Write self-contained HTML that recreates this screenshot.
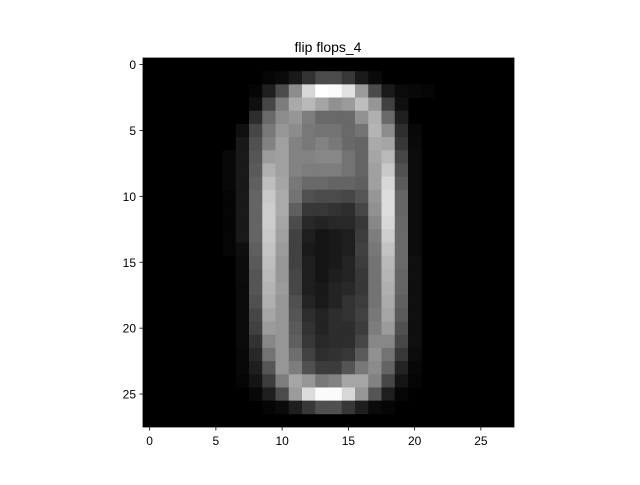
<!DOCTYPE html>
<html><head><meta charset="utf-8"><style>
body{margin:0;background:#fff;}
svg text{font-family:"Liberation Sans","DejaVu Sans",sans-serif;}
</style></head><body>
<svg id="chart" width="640" height="480" viewBox="0 0 640 480">
<rect width="640" height="480" fill="#fff"/>
<text x="328" y="52" font-size="14" text-anchor="middle">flip flops_4</text>
<g id="cells"></g>
<g id="axes"></g>
</svg>
<script>
// columns 6..21 values per row (others are 0)
const colStart = 6;
const rows = [
[0,0,0,0,0,0,0,0,0,0,0,0,0,0,0,0],
[0,0,0,5,10,25,50,75,75,55,25,10,0,0,0,0],
[0,0,5,30,75,140,215,255,250,225,155,75,25,10,8,5],
[0,0,15,70,125,170,185,165,145,155,190,150,65,15,0,0],
[0,0,45,105,140,150,125,105,105,105,145,175,105,30,0,0],
[0,15,70,120,150,140,120,115,115,105,115,180,140,45,8,0],
[0,25,80,130,160,130,120,130,120,105,100,170,165,55,10,0],
[8,25,85,155,160,130,130,135,135,115,100,165,185,70,12,0],
[8,25,90,175,160,130,125,125,125,115,100,160,200,80,12,0],
[8,25,95,190,165,120,105,105,100,100,95,160,215,90,12,0],
[5,25,100,200,170,115,80,75,75,70,85,150,220,100,12,0],
[5,25,100,205,170,95,55,55,50,45,70,145,220,100,12,0],
[5,25,100,205,165,75,40,35,40,40,55,135,215,105,12,0],
[5,25,100,200,160,65,30,20,25,30,60,125,205,105,12,0],
[5,15,95,195,155,65,25,20,25,30,65,120,195,105,12,0],
[0,12,90,190,150,65,30,20,25,35,60,115,185,105,15,0],
[0,12,85,185,150,70,30,20,30,35,55,115,180,100,15,0],
[0,10,85,180,155,70,30,25,35,40,55,115,175,100,15,0],
[0,10,80,175,150,80,35,25,35,50,60,115,170,95,15,0],
[0,10,70,165,150,85,45,35,45,50,65,120,165,90,15,0],
[0,10,65,155,150,90,50,35,45,45,60,125,155,80,15,0],
[0,10,50,135,150,95,55,40,45,45,70,135,135,70,15,0],
[0,8,40,115,150,110,65,45,50,55,90,145,115,55,12,0],
[0,8,30,85,150,125,80,60,60,85,120,140,100,35,8,0],
[0,5,20,60,125,165,150,120,130,165,165,130,70,20,5,0],
[0,0,8,30,75,155,220,250,250,215,150,85,30,5,0,0],
[0,0,0,5,10,30,55,80,80,55,30,10,5,0,0,0],
[0,0,0,0,0,0,0,0,0,0,0,0,0,0,0,0]
];
const ticks = [0,5,10,15,20,25];
const NS="http://www.w3.org/2000/svg";
const x0=143,y0=58,w=371,h=369,n=28;
const cw=w/n, ch=h/n;
const xs=c=>x0+c*cw, ys=r=>y0+r*ch;
const g=document.getElementById('cells');
const bg=document.createElementNS(NS,'rect');
bg.setAttribute('x',x0);bg.setAttribute('y',y0);bg.setAttribute('width',w);bg.setAttribute('height',h);bg.setAttribute('fill','#000');


g.appendChild(bg);
rows.forEach((row,r)=>row.forEach((v,i)=>{
  if(!v) return;
  const c=i+colStart;
  const e=document.createElementNS(NS,'rect');
  e.setAttribute('x',xs(c));e.setAttribute('y',ys(r));
  e.setAttribute('width',cw+0.4);e.setAttribute('height',ch+0.4);
  e.setAttribute('fill',`rgb(${v},${v},${v})`);
  
  
  g.appendChild(e);
}));
const a=document.getElementById('axes');
const fr=document.createElementNS(NS,'rect');
fr.setAttribute('x',x0);fr.setAttribute('y',y0);fr.setAttribute('width',w);fr.setAttribute('height',h);
fr.setAttribute('fill','none');fr.setAttribute('stroke','#000');fr.setAttribute('stroke-width','0.8');


a.appendChild(fr);
ticks.forEach(t=>{
  const cx=xs(t+0.5), cy=ys(t+0.5);
  const l1=document.createElementNS(NS,'line');
  l1.setAttribute('x1',cx);l1.setAttribute('x2',cx);l1.setAttribute('y1',y0+h);l1.setAttribute('y2',y0+h+3.5);
  l1.setAttribute('stroke','#000');l1.setAttribute('stroke-width','0.8');
  
  
  a.appendChild(l1);
  const t1=document.createElementNS(NS,'text');
  t1.setAttribute('x',cx);t1.setAttribute('y',y0+h+18);t1.setAttribute('font-size','12');t1.setAttribute('text-anchor','middle');
  t1.textContent=t;
  
  
  a.appendChild(t1);
  const l2=document.createElementNS(NS,'line');
  l2.setAttribute('x1',x0-3.5);l2.setAttribute('x2',x0);l2.setAttribute('y1',cy);l2.setAttribute('y2',cy);
  l2.setAttribute('stroke','#000');l2.setAttribute('stroke-width','0.8');
  
  
  a.appendChild(l2);
  const t2=document.createElementNS(NS,'text');
  t2.setAttribute('x',x0-7);t2.setAttribute('y',cy+4.5);t2.setAttribute('font-size','12');t2.setAttribute('text-anchor','end');
  t2.textContent=t;
  
  
  a.appendChild(t2);
});
</script>
</body></html>
